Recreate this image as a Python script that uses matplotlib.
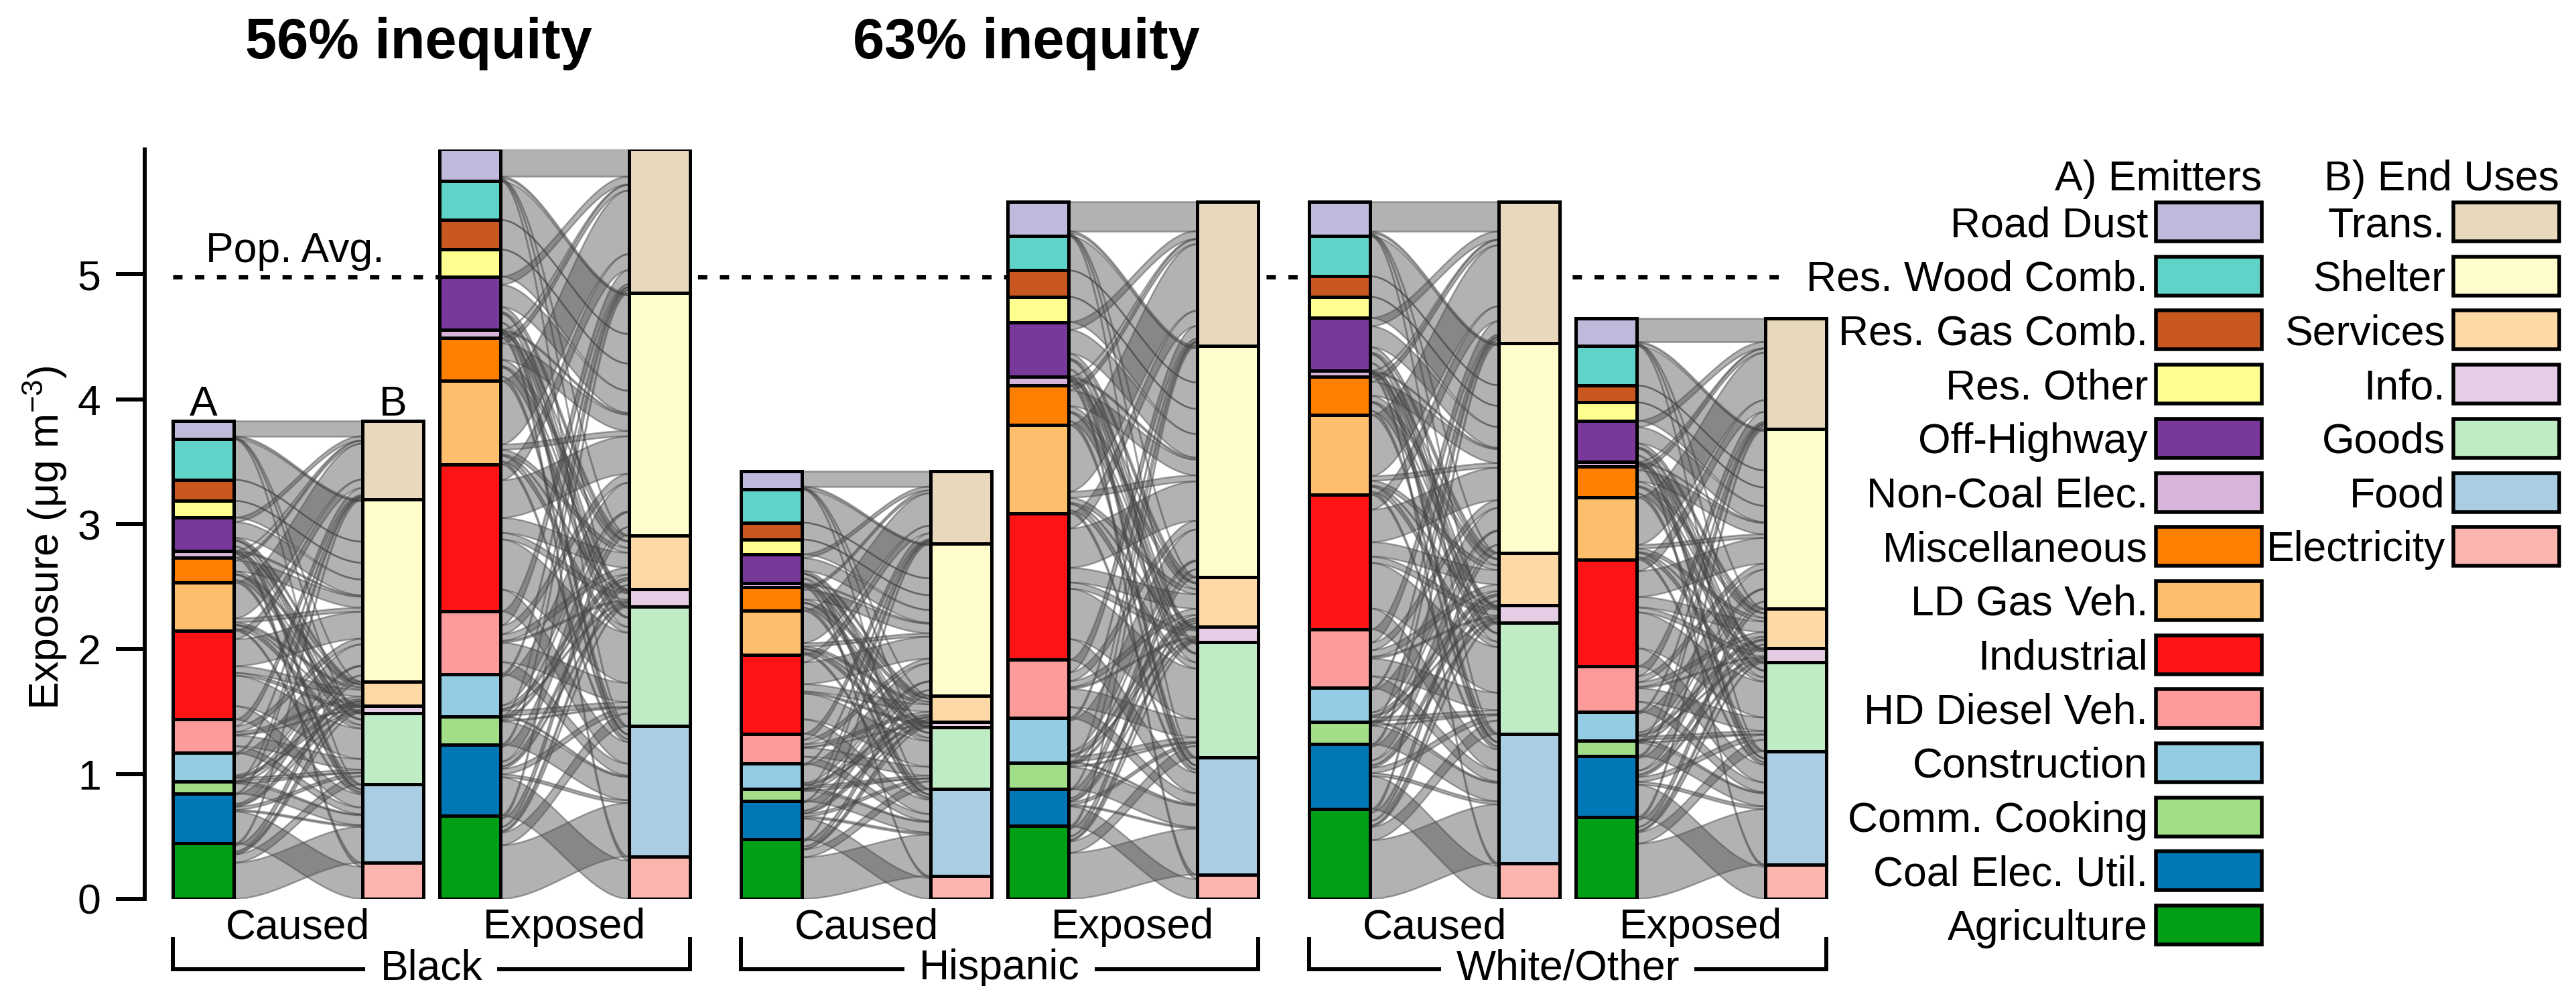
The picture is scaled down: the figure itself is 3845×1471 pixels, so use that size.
import numpy as np
import matplotlib
matplotlib.use("Agg")
import matplotlib.pyplot as plt
from matplotlib.patches import Rectangle

plt.rcParams["font.family"] = ["Liberation Sans", "DejaVu Sans"]
plt.rcParams["mathtext.fontset"] = "custom"
plt.rcParams["mathtext.rm"] = "Liberation Sans"
plt.rcParams["lines.scale_dashes"] = False

# ---- categories (bottom -> top of each stack) ----
emitters = ["Agriculture", "Coal Elec. Util.", "Comm. Cooking", "Construction",
            "HD Diesel Veh.", "Industrial", "LD Gas Veh.", "Miscellaneous",
            "Non-Coal Elec.", "Off-Highway", "Res. Other", "Res. Gas Comb.",
            "Res. Wood Comb.", "Road Dust"]
emitter_colors = ["#009F16", "#0077B6", "#A1DE87", "#93CCE3", "#FC9B9A", "#FE1414",
                  "#FDBF6C", "#FF7F00", "#D7B4DA", "#78399B", "#FFFF8F", "#C8581F",
                  "#5FD3C7", "#BFB9DB"]
end_uses = ["Electricity", "Food", "Goods", "Info.", "Services", "Shelter", "Trans."]
end_use_colors = ["#FCB4AE", "#AACDE4", "#BFEBC5", "#E6CDE6", "#FED9A6", "#FFFDCC", "#E8D9BD"]

groups = ["Black", "Hispanic", "White/Other"]
kinds = ["Caused", "Exposed"]
titles = ["56% inequity", "63% inequity"]
pop_avg = 4.98

# ---- exposure by emitter (A) and by end use (B), ug/m3 ----
black_caused_emit = [0.444, 0.400, 0.094, 0.231, 0.267, 0.711, 0.386, 0.200, 0.054, 0.266, 0.134, 0.169, 0.324, 0.147]
black_caused_use = [0.289, 0.627, 0.573, 0.058, 0.191, 1.458, 0.631]
black_exposed_emit = [0.667, 0.569, 0.222, 0.342, 0.502, 1.178, 0.667, 0.346, 0.063, 0.426, 0.218, 0.236, 0.311, 0.257]
black_exposed_use = [0.338, 1.044, 0.956, 0.142, 0.431, 1.938, 1.155]

hisp_caused_emit = [0.477, 0.305, 0.097, 0.203, 0.240, 0.634, 0.351, 0.190, 0.029, 0.233, 0.118, 0.135, 0.266, 0.148]
hisp_caused_use = [0.182, 0.697, 0.494, 0.042, 0.212, 1.216, 0.583]
hisp_exposed_emit = [0.583, 0.296, 0.211, 0.359, 0.465, 1.174, 0.706, 0.317, 0.072, 0.435, 0.202, 0.212, 0.274, 0.275]
hisp_exposed_use = [0.194, 0.938, 0.921, 0.127, 0.397, 1.851, 1.153]

white_caused_emit = [0.718, 0.520, 0.177, 0.275, 0.469, 1.077, 0.638, 0.309, 0.046, 0.422, 0.169, 0.165, 0.321, 0.275]
white_caused_use = [0.287, 1.035, 0.888, 0.139, 0.422, 1.678, 1.132]
white_exposed_emit = [0.655, 0.490, 0.122, 0.233, 0.363, 0.854, 0.498, 0.249, 0.034, 0.330, 0.147, 0.136, 0.317, 0.219]
white_exposed_use = [0.275, 0.908, 0.710, 0.114, 0.317, 1.436, 0.887]

# rough share of each emitter going to each end use (rows: emitters, cols: end uses)
flow_share = [
    [0.00, 0.72, 0.14, 0.01, 0.04, 0.06, 0.03],  # Agriculture
    [0.62, 0.05, 0.08, 0.02, 0.06, 0.14, 0.03],  # Coal Elec. Util.
    [0.00, 0.88, 0.03, 0.00, 0.06, 0.02, 0.01],  # Comm. Cooking
    [0.00, 0.05, 0.15, 0.03, 0.10, 0.60, 0.07],  # Construction
    [0.00, 0.25, 0.33, 0.02, 0.10, 0.10, 0.20],  # HD Diesel Veh.
    [0.00, 0.20, 0.38, 0.03, 0.10, 0.19, 0.10],  # Industrial
    [0.00, 0.05, 0.08, 0.01, 0.06, 0.05, 0.75],  # LD Gas Veh.
    [0.00, 0.15, 0.25, 0.02, 0.15, 0.30, 0.13],  # Miscellaneous
    [0.58, 0.05, 0.10, 0.02, 0.08, 0.14, 0.03],  # Non-Coal Elec.
    [0.00, 0.20, 0.20, 0.02, 0.10, 0.33, 0.15],  # Off-Highway
    [0.00, 0.00, 0.00, 0.00, 0.00, 1.00, 0.00],  # Res. Other
    [0.00, 0.00, 0.00, 0.00, 0.00, 1.00, 0.00],  # Res. Gas Comb.
    [0.00, 0.00, 0.00, 0.00, 0.00, 1.00, 0.00],  # Res. Wood Comb.
    [0.00, 0.03, 0.05, 0.00, 0.02, 0.05, 0.85],  # Road Dust
]

data = {
    ("Black", "Caused"): (black_caused_emit, black_caused_use),
    ("Black", "Exposed"): (black_exposed_emit, black_exposed_use),
    ("Hispanic", "Caused"): (hisp_caused_emit, hisp_caused_use),
    ("Hispanic", "Exposed"): (hisp_exposed_emit, hisp_exposed_use),
    ("White/Other", "Caused"): (white_caused_emit, white_caused_use),
    ("White/Other", "Exposed"): (white_exposed_emit, white_exposed_use),
}

# ---- layout (units of bar widths) ----
BAR_W = 1.0
B_OFF = 3.11
KIND_OFF = {"Caused": 0.0, "Exposed": 4.37}
GROUP_STRIDE = 9.32
PX = 91.0  # pixels per x unit
LW = 3.6


def balance(emit, use):
    emit = np.array(emit, dtype=float)
    use = np.array(use, dtype=float)
    use = use * emit.sum() / use.sum()
    m = np.array(flow_share) * emit[:, None]
    for _ in range(300):
        m *= (use / m.sum(axis=0))[None, :]
        m *= (emit / m.sum(axis=1))[:, None]
    return m


def draw_flows(ax, x0, x1, m):
    ne, nu = m.shape
    src = np.zeros((ne, nu))
    y = 0.0
    for i in range(ne):
        for j in range(nu):
            src[i, j] = y
            y += m[i, j]
    dst = np.zeros((ne, nu))
    y = 0.0
    for j in range(nu):
        for i in range(ne):
            dst[i, j] = y
            y += m[i, j]
    t = np.linspace(0, 1, 80)
    s = t * t * (3 - 2 * t)
    xs = x0 + (x1 - x0) * t
    for i in range(ne):
        for j in range(nu):
            if m[i, j] < 1e-3:
                continue
            lo = src[i, j] + (dst[i, j] - src[i, j]) * s
            hi = lo + m[i, j]
            ax.fill(np.r_[xs, xs[::-1]], np.r_[lo, hi[::-1]],
                    facecolor=(0.33, 0.33, 0.33, 0.45),
                    edgecolor=(0.25, 0.25, 0.25, 0.45), linewidth=1.8, zorder=3)


def draw_stack(ax, x, vals, colors):
    vals = np.array(vals)
    ax.bar([x] * len(vals), vals, bottom=np.cumsum(vals) - vals, width=BAR_W,
           align="edge", color=colors, edgecolor="black", linewidth=LW, zorder=4)


fig = plt.figure(figsize=(38.45, 14.71), dpi=100)
xmin, xmax = -42 / PX, (2760 - 258) / PX
ax = fig.add_axes([216 / 3845, 130 / 1471, (xmax - xmin) * PX / 3845, 1118 / 1471])
ax.set_xlim(xmin, xmax)
ax.set_ylim(0, 6.0)

group_texts = []
for gi, g in enumerate(groups):
    g0 = gi * GROUP_STRIDE
    for k in kinds:
        emit, use = data[(g, k)]
        xa = g0 + KIND_OFF[k]
        xb = xa + B_OFF
        total = sum(emit)
        ax.add_patch(Rectangle((xa, 0), xb + BAR_W - xa, total, facecolor="white",
                               edgecolor="none", zorder=2))
        draw_flows(ax, xa + BAR_W, xb, balance(emit, use))
        draw_stack(ax, xa, emit, emitter_colors)
        draw_stack(ax, xb, use, end_use_colors)
        ax.text((xa + xb + BAR_W) / 2, -0.317, k, ha="center", va="baseline",
                fontsize=45, clip_on=False)
    left, right = g0, g0 + KIND_OFF["Exposed"] + B_OFF + BAR_W
    txt = ax.text((left + right) / 2, -0.645, g, ha="center", va="baseline",
                  fontsize=45, clip_on=False)
    group_texts.append((txt, left, right))

# brackets with a gap for the group name
renderer = fig.canvas.get_renderer()
inv = ax.transData.inverted()
for txt, left, right in group_texts:
    bb = txt.get_window_extent(renderer)
    gx0 = inv.transform((bb.x0 - 25, 0))[0]
    gx1 = inv.transform((bb.x1 + 25, 0))[0]
    ax.plot([left, left, gx0], [-0.32, -0.562, -0.562], color="black", lw=4.3,
            clip_on=False, solid_joinstyle="miter")
    ax.plot([gx1, right, right], [-0.562, -0.562, -0.32], color="black", lw=4.3,
            clip_on=False, solid_joinstyle="miter")

# A / B markers
ax.text(BAR_W / 2, sum(black_caused_emit) + 0.04, "A", ha="center", va="baseline", fontsize=45)
ax.text(B_OFF + BAR_W / 2, sum(black_caused_use) + 0.04, "B", ha="center", va="baseline", fontsize=45)

# population average
ax.plot([0, (2670 - 258) / PX], [pop_avg, pop_avg], color="black", lw=4.8,
        linestyle=(0, (10, 13.5)), zorder=1)
ax.text(0.54, pop_avg + 0.12, "Pop. Avg.", ha="left", va="baseline", fontsize=45)

for sp in ["top", "right", "bottom"]:
    ax.spines[sp].set_visible(False)
ax.spines["left"].set_linewidth(4.3)
ax.spines["left"].set_bounds(0, 6)
ax.set_xticks([])
ax.set_yticks([0, 1, 2, 3, 4, 5])
ax.tick_params(axis="y", length=31, width=4.3, labelsize=45, pad=16)
ax.patch.set_visible(False)

# ---- overlay in pixel coordinates for titles, label, legend ----
ov = fig.add_axes([0, 0, 1, 1])
ov.set_xlim(0, 3845)
ov.set_ylim(1471, 0)
ov.axis("off")
ov.patch.set_visible(False)

ov.text(625, 87, titles[0], ha="center", va="baseline", fontsize=61, fontweight="bold")
ov.text(1532, 87, titles[1], ha="center", va="baseline", fontsize=61, fontweight="bold")
ov.text(67, 802, r"Exposure (μg m$^{\mathregular{-3}}$)", rotation=90, ha="center",
        va="center", fontsize=45)

step = 80.7
sw_h = 58
for col, (labels, colors, header, sx) in enumerate([
        (emitters, emitter_colors, "A) Emitters", 3218),
        (end_uses, end_use_colors, "B) End Uses", 3662)]):
    ov.text(sx + 158, 284, header, ha="right", va="baseline", fontsize=45)
    for r, (lab, c) in enumerate(zip(labels[::-1], colors[::-1])):
        yc = 331 + r * step
        ov.add_patch(Rectangle((sx, yc - sw_h / 2), 158, sw_h, facecolor=c,
                               edgecolor="black", linewidth=4.0))
        ov.text(sx - 12, yc + 22, lab, ha="right", va="baseline", fontsize=45)

fig.savefig("out.png", dpi=100)
